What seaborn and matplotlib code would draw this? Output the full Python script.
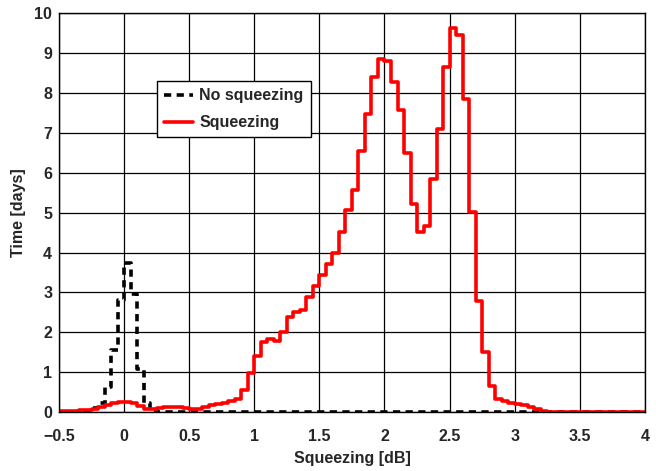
import numpy as np
import pandas as pd
import matplotlib
matplotlib.use("Agg")
import matplotlib.pyplot as plt
import seaborn as sns

# Bordes de los bins (ancho 0.05 dB) de -0.5 a 4
edges = [round(v, 3) for v in np.arange(-0.5, 4.0001, 0.05)]
centers = [(a + b) / 2 for a, b in zip(edges[:-1], edges[1:])]

# Tiempo por bin [dias]: con squeezing
squeezing = [
    0.03, 0.03, 0.04, 0.05, 0.06, 0.09, 0.13, 0.18, 0.23, 0.25,   # -0.5 .. 0
    0.25, 0.22, 0.15, 0.08, 0.08, 0.10, 0.12, 0.13, 0.12, 0.10,   # 0 .. 0.5
    0.07, 0.08, 0.13, 0.18, 0.21, 0.22, 0.28, 0.34, 0.55, 0.97,   # 0.5 .. 1
    1.40, 1.76, 1.83, 1.79, 2.00, 2.38, 2.50, 2.56, 2.88, 3.15,   # 1 .. 1.5
    3.43, 3.71, 3.98, 4.52, 5.06, 5.56, 6.54, 7.47, 8.40, 8.85,   # 1.5 .. 2
    8.80, 8.28, 7.57, 6.49, 5.21, 4.51, 4.67, 5.84, 7.09, 8.64,   # 2 .. 2.5
    9.64, 9.45, 7.84, 5.02, 2.78, 1.51, 0.65, 0.34, 0.28, 0.22,   # 2.5 .. 3
    0.20, 0.18, 0.12, 0.07, 0.03, 0.01, 0.01, 0.01, 0.01, 0.01,   # 3 .. 3.5
    0.01, 0.01, 0.01, 0.01, 0.01, 0.01, 0.01, 0.01, 0.01, 0.01,   # 3.5 .. 4
]

# Sin squeezing
no_squeezing = [
    0.0, 0.0, 0.0, 0.02, 0.03, 0.10, 0.22, 0.63, 1.55, 2.80,      # -0.5 .. 0
    3.74, 2.97, 1.08, 0.22, 0.03, 0.0, 0.0, 0.0, 0.0, 0.0,        # 0 .. 0.5
] + [0.0] * 70

df = pd.DataFrame({"x": centers, "sq": squeezing, "nosq": no_squeezing})

sns.set_style("white")
plt.rcParams["font.family"] = ["Liberation Sans", "DejaVu Sans"]
plt.rcParams["font.weight"] = "bold"

fig = plt.figure(figsize=(6.56, 4.71), dpi=100)
ax = fig.add_axes([0.09, 0.125, 0.893, 0.847])

sns.histplot(data=df, x="x", weights="nosq", bins=edges, element="step",
             fill=False, color="black", linestyle=(0, (2.0, 1.5)), linewidth=2.6,
             ax=ax, label="No squeezing")
sns.histplot(data=df, x="x", weights="sq", bins=edges, element="step",
             fill=False, color="#ff0000", linewidth=2.6, ax=ax, label="Squeezing")

ax.set_xlim(-0.5, 4)
ax.set_ylim(0, 10)
ax.set_xticks(np.arange(-0.5, 4.01, 0.5))
ax.set_xticklabels(["\u22120.5", "0", "0.5", "1", "1.5", "2", "2.5", "3", "3.5", "4"])
ax.set_yticks(range(0, 11))
ax.grid(True, color="black", linewidth=0.9)
ax.set_axisbelow(True)
for s in ax.spines.values():
    s.set_color("black")
    s.set_linewidth(1.0)
ax.tick_params(labelsize=11.5, length=0)
ax.tick_params(axis="x", pad=12)
ax.tick_params(axis="y", pad=5)
for lab in ax.get_xticklabels() + ax.get_yticklabels():
    lab.set_fontweight("bold")

ax.set_xlabel("Squeezing [dB]", fontsize=11.5, fontweight="bold", labelpad=5)
ax.set_ylabel("Time [days]", fontsize=11.5, fontweight="bold", labelpad=6)

leg = ax.legend(loc="upper left", bbox_to_anchor=(0.167, 0.83), fancybox=False,
                framealpha=1, edgecolor="black", handlelength=1.8,
                handletextpad=0.4, borderaxespad=0, labelspacing=0.75,
                prop={"weight": "bold", "size": 11.5}, borderpad=0.45)
leg.get_frame().set_linewidth(1.0)

fig.savefig("out.png", dpi=100)
